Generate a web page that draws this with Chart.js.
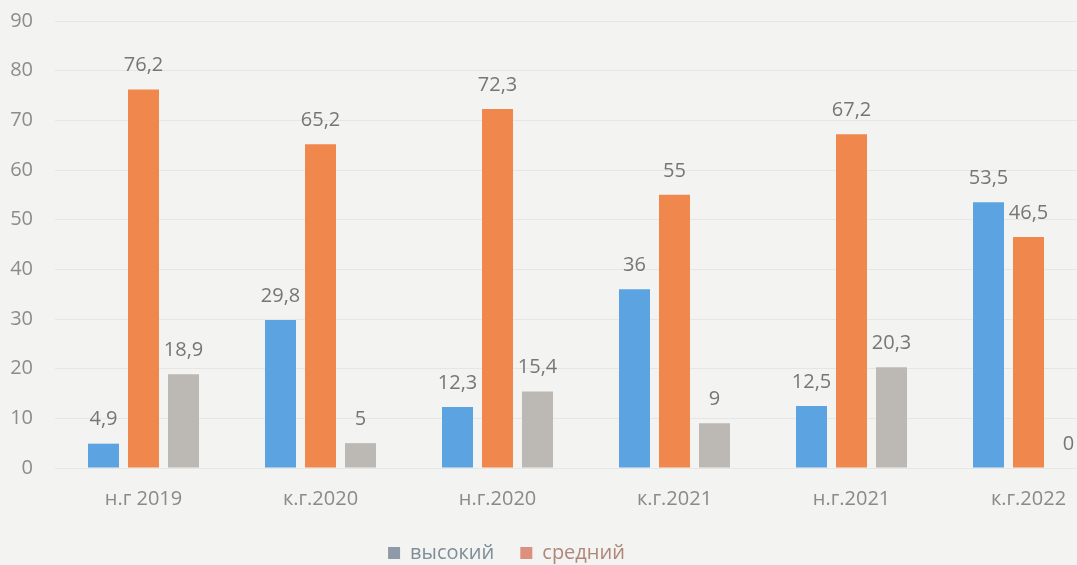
<!DOCTYPE html>
<html>
<head>
<meta charset="utf-8">
<script src="https://cdn.jsdelivr.net/npm/chart.js@4/dist/chart.umd.min.js"></script>
<style>
  html, body { margin: 0; padding: 0; overflow: hidden; background: #f3f3f2; width: 1077px; height: 565px; }
  #wrap { position: absolute; left: 0; top: 0; width: 1130px; height: 565px; }
</style>
</head>
<body>
<div id="wrap"><canvas id="c"></canvas></div>
<script>
const categories = ['н.г 2019', 'к.г.2020', 'н.г.2020', 'к.г.2021', 'н.г.2021', 'к.г.2022'];
const seriesNames = ['высокий', 'средний', 'низкий'];
const highValues = [4.9, 29.8, 12.3, 36, 12.5, 53.5];
const midValues = [76.2, 65.2, 72.3, 55, 67.2, 46.5];
const lowValues = [18.9, 5, 15.4, 9, 20.3, 0];
const yTicks = [0, 10, 20, 30, 40, 50, 60, 70, 80, 90];

const barColors = ['#5ba4e1', '#f0884e', '#bcb9b4'];
const legendBoxColors = ['#8e9aa7', '#de907e'];
const legendTextColors = ['#7f8c99', '#b08679'];

const FONT = "'Open Sans', 'DejaVu Sans', sans-serif";

const valueLabels = {
  id: 'valueLabels',
  afterDatasetsDraw(chart) {
    const ctx = chart.ctx;
    ctx.save();
    ctx.font = '20px ' + FONT;
    ctx.fillStyle = '#767676';
    ctx.textAlign = 'center';
    ctx.textBaseline = 'middle';
    chart.data.datasets.forEach((ds, di) => {
      const meta = chart.getDatasetMeta(di);
      meta.data.forEach((el, i) => {
        const v = ds.data[i];
        const txt = String(v).replace('.', ',');
        ctx.fillText(txt, el.x, el.y - 24);
      });
    });
    ctx.restore();
  }
};

const legendShift = {
  id: 'legendShift',
  afterLayout(chart) {
    const lg = chart.legend;
    if (lg) { lg.left -= 57; lg.right -= 57; }
  }
};

new Chart(document.getElementById('c'), {
  type: 'bar',
  data: {
    labels: categories,
    datasets: [
      { label: seriesNames[0], data: highValues, backgroundColor: barColors[0] },
      { label: seriesNames[1], data: midValues, backgroundColor: barColors[1] },
      { label: seriesNames[2], data: lowValues, backgroundColor: barColors[2] }
    ]
  },
  options: {
    responsive: true,
    maintainAspectRatio: false,
    animation: false,
    datasets: { bar: { categoryPercentage: 0.678, barPercentage: 0.775 } },
    layout: { padding: { top: 21, left: 10, right: 13, bottom: 0 } },
    scales: {
      x: {
        afterFit(scale) { scale.height = 49; },
        grid: { display: false, drawTicks: false },
        border: { display: false },
        ticks: { color: '#8a8a8a', padding: 19, font: { family: FONT, size: 20 } }
      },
      y: {
        min: 0, max: 90,
        afterFit(scale) { scale.width = 45; scale.paddingTop = 0; scale.paddingBottom = 0; },
        afterBuildTicks(scale) { scale.ticks = yTicks.map(v => ({ value: v })); },
        grid: { color: 'rgba(0,0,0,0.05)', drawTicks: false },
        border: { display: false },
        ticks: { color: '#8c8c8c', padding: 22, font: { family: FONT, size: 20 } }
      }
    },
    plugins: {
      tooltip: { enabled: false },
      legend: {
        position: 'bottom',
        maxHeight: 48,
        labels: {
          boxWidth: 12, boxHeight: 12, padding: 26,
          font: { family: FONT, size: 20 },
          filter: (item) => item.datasetIndex < 2,
          generateLabels(chart) {
            const items = Chart.defaults.plugins.legend.labels.generateLabels(chart);
            items.forEach((it) => {
              if (it.datasetIndex < 2) {
                it.fillStyle = legendBoxColors[it.datasetIndex];
                it.strokeStyle = legendBoxColors[it.datasetIndex];
                it.fontColor = legendTextColors[it.datasetIndex];
                it.lineWidth = 0;
              }
            });
            return items;
          }
        }
      }
    }
  },
  plugins: [valueLabels, legendShift]
});
</script>
</body>
</html>
